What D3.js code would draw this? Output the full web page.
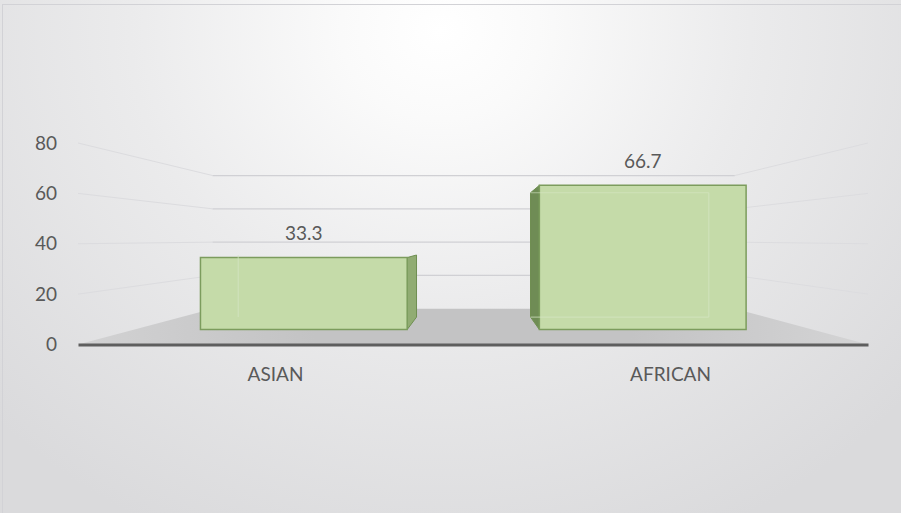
<!DOCTYPE html>
<html>
<head>
<meta charset="utf-8">
<script src="https://cdn.jsdelivr.net/npm/d3@7"></script>
<style>
  html, body { margin: 0; padding: 0; background: #e4e4e6; }
  svg { display: block; }
  text { font-family: Lato, "Open Sans", sans-serif; }
</style>
</head>
<body>
<svg id="chart" width="901" height="513"></svg>
<script>
// Share of respondents by group (%)
const categories = ["ASIAN", "AFRICAN"];
const values = [33.3, 66.7];
const valueLabels = ["33.3", "66.7"];
const yTicks = [0, 20, 40, 60, 80];

const W = 901, H = 513;
const svg = d3.select("#chart");

// Front-plane scales (the plane of the value axis and category axis)
const x = d3.scaleBand().domain(categories).range([78, 868]).paddingInner(0).paddingOuter(0);
const y = d3.scaleLinear().domain([0, 80]).range([344.5, 143]);

// Simple one-point perspective: depth factor 1 = front plane, smaller = farther back
const VP = { x: 475, y: 239 };
const DEPTH = { front: 1, barFront: 0.858, barBack: 0.74, wall: 0.661 };
const project = (px, v, s) => [VP.x + (px - VP.x) * s, VP.y + (y(v) - VP.y) * s];

// Background
const defs = svg.append("defs");
const bg = defs.append("radialGradient").attr("id", "bg")
  .attr("gradientUnits", "userSpaceOnUse")
  .attr("cx", 440).attr("cy", 30).attr("r", 620)
  .attr("gradientTransform", "translate(440,30) scale(1,0.9) translate(-440,-30)");
bg.append("stop").attr("offset", 0).attr("stop-color", "#ffffff");
bg.append("stop").attr("offset", 0.16).attr("stop-color", "#fafafa");
bg.append("stop").attr("offset", 0.5).attr("stop-color", "#ebebec");
bg.append("stop").attr("offset", 1).attr("stop-color", "#dadadc");

const floorGrad = defs.append("linearGradient").attr("id", "floor")
  .attr("gradientUnits", "userSpaceOnUse").attr("x1", 78).attr("x2", 868).attr("y1", 0).attr("y2", 0);
floorGrad.append("stop").attr("offset", 0).attr("stop-color", "#d2d2d3");
floorGrad.append("stop").attr("offset", 0.3).attr("stop-color", "#c3c3c4");
floorGrad.append("stop").attr("offset", 0.7).attr("stop-color", "#c3c3c4");
floorGrad.append("stop").attr("offset", 1).attr("stop-color", "#d4d4d5");

svg.append("rect").attr("width", W).attr("height", H).attr("fill", "url(#bg)");
svg.append("rect").attr("x", 2.5).attr("y", 4.5).attr("width", W).attr("height", H)
  .attr("fill", "none").attr("stroke", "#d2d2d6").attr("stroke-width", 1);

const [x0, x1] = x.range();
const line = d3.line();

// Floor
svg.append("path")
  .attr("d", line([project(x0, 0, DEPTH.front), project(x1, 0, DEPTH.front),
                   project(x1, 0, DEPTH.wall), project(x0, 0, DEPTH.wall)]) + "Z")
  .attr("fill", "url(#floor)");

// Wall gridlines: faint side walls, clearer back wall
const grid = svg.append("g").attr("fill", "none");
const gridTicks = yTicks.filter(d => d > 0);
grid.selectAll("path.side")
  .data(gridTicks.flatMap(v => [[x0, v], [x1, v]]))
  .join("path").attr("class", "side")
  .attr("d", ([px, v]) => line([project(px, v, DEPTH.front), project(px, v, DEPTH.wall)]))
  .attr("stroke", "#dcdcdf").attr("stroke-width", 1);
grid.selectAll("path.back")
  .data(gridTicks)
  .join("path").attr("class", "back")
  .attr("d", v => line([project(x0, v, DEPTH.wall), project(x1, v, DEPTH.wall)]))
  .attr("stroke", "#d0d0d4").attr("stroke-width", 1.3);

// Bars (3D boxes)
const barW = x.bandwidth() * 0.61;
const bars = svg.append("g").selectAll("g")
  .data(categories.map((c, i) => ({ c, v: values[i], label: valueLabels[i] })))
  .join("g");

bars.each(function (d) {
  const g = d3.select(this);
  const cx = x(d.c) + x.bandwidth() / 2;
  const L = cx - barW / 2, R = cx + barW / 2;
  const fBL = project(L, 0, DEPTH.barFront), fBR = project(R, 0, DEPTH.barFront);
  const fTL = project(L, d.v, DEPTH.barFront), fTR = project(R, d.v, DEPTH.barFront);
  const bBL = project(L, 0, DEPTH.barBack), bBR = project(R, 0, DEPTH.barBack);
  const bTL = project(L, d.v, DEPTH.barBack), bTR = project(R, d.v, DEPTH.barBack);

  // visible side face: the one facing the vanishing point
  const leftOfVP = cx < VP.x;
  const side = leftOfVP ? [fTR, bTR, bBR, fBR] : [fTL, bTL, bBL, fBL];
  g.append("path").attr("d", line(side) + "Z")
    .attr("fill", leftOfVP ? "#91ac73" : "#6f8c55")
    .attr("stroke", "#6f8f52").attr("stroke-width", 1);

  // front face
  g.append("path").attr("d", line([fTL, fTR, fBR, fBL]) + "Z")
    .attr("fill", "#c5dba9")
    .attr("stroke", "#7c9c5d").attr("stroke-width", 1.5);

  // faint back edges seen through the face
  const backEdges = leftOfVP
    ? [[bTL, bBL]]
    : [[bTR, bBR], [bBL, bBR], [bTL, bTR]];
  backEdges.forEach(e => {
    g.append("path").attr("d", line(e))
      .attr("stroke", "#d6e6c4").attr("stroke-width", 1.2).attr("fill", "none").attr("opacity", 0.6);
  });

  // value label
  g.append("text")
    .attr("x", (fTL[0] + fTR[0]) / 2)
    .attr("y", fTL[1] - 24)
    .attr("dy", "0.35em")
    .attr("text-anchor", "middle")
    .attr("font-size", 19)
    .attr("fill", "#595959")
    .text(d.label);
});

// Category axis along the floor's front edge
const xAxis = svg.append("g")
  .attr("transform", `translate(0,${y(0)})`)
  .call(d3.axisBottom(x).tickSize(0).tickSizeOuter(0).tickPadding(23));
xAxis.select(".domain").attr("stroke", "#5e5e5e").attr("stroke-width", 3);
xAxis.selectAll("text").attr("font-size", 19).attr("fill", "#595959")
  .attr("font-family", "Lato, 'Open Sans', sans-serif");

// Value axis labels
const yAxis = svg.append("g")
  .attr("transform", "translate(60,0)")
  .call(d3.axisLeft(y).tickValues(yTicks).tickSize(0).tickPadding(3));
yAxis.select(".domain").remove();
yAxis.selectAll("text").attr("font-size", 19).attr("fill", "#595959")
  .attr("font-family", "Lato, 'Open Sans', sans-serif");
</script>
</body>
</html>
